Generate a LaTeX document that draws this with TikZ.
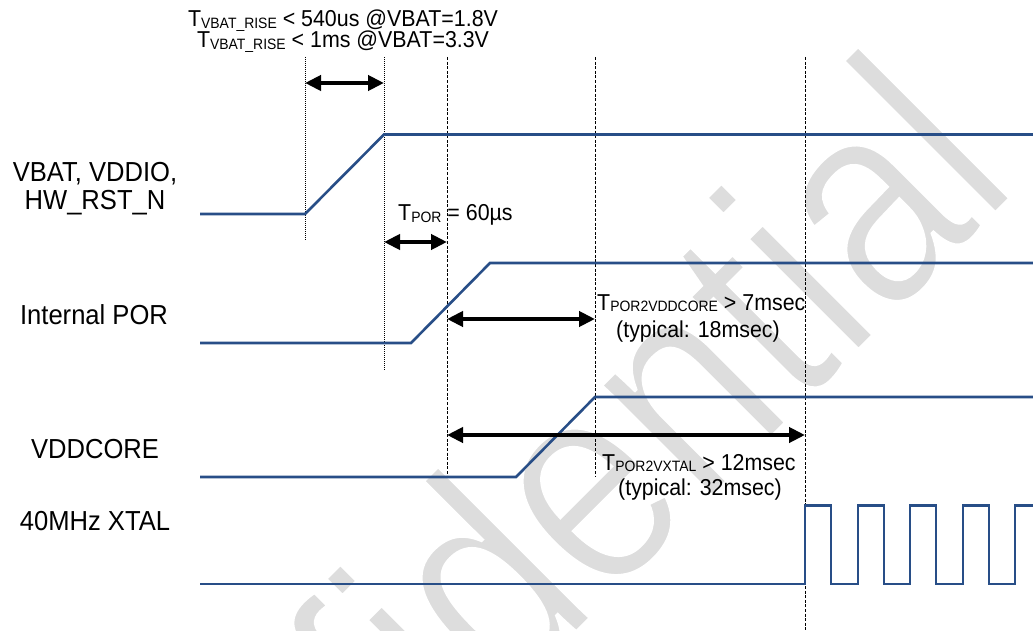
\documentclass[tikz,border=0pt]{standalone}
\usepackage{fontspec}
\setmainfont{Liberation Sans}[FakeStretch=0.93]
\newfontfamily\wmfont{Liberation Sans}[FakeStretch=0.834]
\usetikzlibrary{arrows.meta}
\definecolor{sig}{RGB}{40,78,135}
\definecolor{wmgray}{RGB}{221,221,221}
\newcommand{\tsub}[1]{\raisebox{-1.5pt}{\fontsize{15}{15}\selectfont #1}}
\begin{document}
\begin{tikzpicture}[x=1pt,y=-1pt,
  sigline/.style={draw=sig,line width=2.6pt,line join=miter},
  fineguide/.style={draw=black,line width=0.8pt,dash pattern=on 1pt off 1pt},
  guide/.style={draw=black,line width=0.9pt,dash pattern=on 3pt off 1.6pt},
  dimarrow/.style={draw=black,line width=4pt,{Triangle[length=16pt,width=15pt]}-{Triangle[length=16pt,width=15pt]}},
  lab/.style={font=\fontsize{27.5}{30}\selectfont,inner sep=0pt,anchor=base},
  ann/.style={font=\fontsize{23}{25}\selectfont,inner sep=0pt,anchor=base},
]
\useasboundingbox (0,0) rectangle (1033,631);
% watermark (drawn first, behind everything)
\node[text=wmgray,rotate=45,anchor=base west,inner sep=0pt] (wmark) at (94.5,1114.5)
  {\wmfont\fontsize{298}{298}\selectfont\special{pdf:literal direct 1 1 1 RG 4.4 w 2 Tr}Confidential\special{pdf:literal direct 0 Tr}};
% guide coordinates
\coordinate (gAt) at (305,57);  \coordinate (gAb) at (305,240);
\coordinate (gBt) at (384,57);  \coordinate (gBb) at (384,370);
\coordinate (gCt) at (447,57);  \coordinate (gCb) at (447,477);
\coordinate (gDt) at (595,57);  \coordinate (gDb) at (595,477);
\coordinate (gEt) at (805,57);  \coordinate (gEb) at (805,631);
\draw[fineguide] (gAt) -- (gAb);
\draw[fineguide] (gBt) -- (gBb);
\draw[guide] (gCt) -- (gCb);
\draw[guide] (gDt) -- (gDb);
\draw[guide] (gEt) -- (gEb);
% signals
\draw[sigline] (200,214) -- (305,214) -- (384,134.5) -- (1040,134.5);
\draw[sigline] (200,343) -- (411,343) -- (490,263) -- (1040,263);
\draw[sigline] (200,477) -- (516,477) -- (595,397) -- (1040,397);
\draw[sigline] (200,584) -- (805,584) -- (805,505.5) -- (831,505.5) -- (831,584)
  -- (858,584) -- (858,505.5) -- (884,505.5) -- (884,584) -- (910,584) -- (910,505.5)
  -- (936,505.5) -- (936,584) -- (963,584) -- (963,505.5) -- (989,505.5) -- (989,584)
  -- (1015,584) -- (1015,505.5) -- (1040,505.5);
% dimension arrows
\coordinate (a1l) at (305,83);  \coordinate (a1r) at (384,83);
\coordinate (a2l) at (384,242); \coordinate (a2r) at (447,242);
\coordinate (a3l) at (447,319); \coordinate (a3r) at (595,319);
\coordinate (a4l) at (447,435); \coordinate (a4r) at (805,435);
\draw[dimarrow] (a1l) -- (a1r);
\draw[dimarrow] (a2l) -- (a2r);
\draw[dimarrow] (a3l) -- (a3r);
\draw[dimarrow] (a4l) -- (a4r);
% signal labels
\node[lab] (l1a) at (95,182) {VBAT, VDDIO,};
\node[lab] (l1b) at (95,210) {HW\_RST\_N};
\node[lab] (l2) at (94,324) {Internal POR};
\node[lab] (l3) at (95,458) {VDDCORE};
\node[lab] (l4) at (95,530) {40MHz XTAL};
% annotations
\node[ann] (t1a) at (343,27) {T\tsub{VBAT\_RISE} < 540us @VBAT=1.8V};
\node[ann] (t1b) at (343,48) {T\tsub{VBAT\_RISE} < 1ms @VBAT=3.3V};
\node[ann,anchor=base west] (t2) at (398,221) {T\tsub{POR} = 60µs};
\node[ann,anchor=base west] (t3a) at (597,310) {T\tsub{POR2VDDCORE} > 7msec};
\node[ann] (t3b) at (698,337) {(typical: 18msec)};
\node[ann,anchor=base west] (t4a) at (602,470) {T\tsub{POR2VXTAL} > 12msec};
\node[ann] (t4b) at (700,495) {(typical: 32msec)};
\end{tikzpicture}
\end{document}
